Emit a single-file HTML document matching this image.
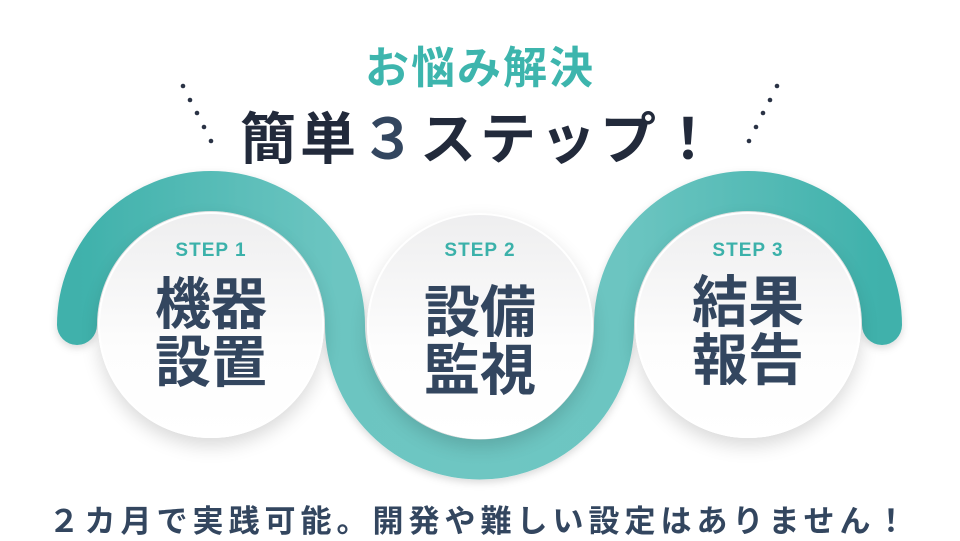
<!DOCTYPE html>
<html><head><meta charset="utf-8"><style>
html,body{margin:0;padding:0;background:#fff;}
body{width:960px;height:540px;position:relative;overflow:hidden;font-family:"Liberation Sans","Noto Sans CJK JP",sans-serif;}
.t{position:absolute;left:0;width:960px;text-align:center;font-weight:bold;white-space:nowrap;}
.c{position:absolute;width:226px;height:226px;border-radius:50%;background:linear-gradient(#eeeeef,#fdfdfd 60%,#fff);box-shadow:0 8px 18px rgba(0,0,0,0.15),inset 0 0 0 2px #fff;}
.s{position:absolute;width:226px;text-align:center;font-weight:bold;color:#3bb1aa;font-size:19px;letter-spacing:1px;}
.k{position:absolute;width:226px;text-align:center;font-weight:bold;color:#33465f;font-size:56px;line-height:58px;}
</style></head><body>
<svg width="960" height="540" style="position:absolute;left:0;top:0">
<defs>
<linearGradient id="g" x1="0" x2="1" y1="0" y2="0">
<stop offset="0" stop-color="#3fb1ab"/><stop offset="0.32" stop-color="#6cc5c1"/><stop offset="0.5" stop-color="#6ec6c2"/><stop offset="0.68" stop-color="#6cc5c1"/><stop offset="1" stop-color="#3fb1ab"/>
</linearGradient>
<filter id="sh" x="-20%" y="-20%" width="140%" height="140%"><feDropShadow dx="0" dy="3" stdDeviation="4" flood-opacity="0.15"/></filter>
</defs>
<path d="M77,325 A134,134 0 0 1 345,325 A134,134 0 0 0 614,325 A134,134 0 0 1 882,325" fill="none" stroke="url(#g)" stroke-width="40" stroke-linecap="round" filter="url(#sh)"/>
<g fill="#2a3345">
<circle cx="183" cy="86" r="2.3"/><circle cx="190" cy="100" r="2.3"/><circle cx="197" cy="113" r="2.3"/><circle cx="204" cy="127" r="2.3"/><circle cx="211" cy="141" r="2.3"/>
<circle cx="777" cy="86" r="2.3"/><circle cx="770" cy="100" r="2.3"/><circle cx="763" cy="113" r="2.3"/><circle cx="756" cy="127" r="2.3"/><circle cx="749" cy="141" r="2.3"/>
</g>
</svg>
<div class="c" style="left:98px;top:212px"></div>
<div class="c" style="left:367px;top:213px"></div>
<div class="c" style="left:635px;top:212px"></div>
<div class="s" style="left:98px;top:240px">STEP 1</div>
<div class="s" style="left:367px;top:240px">STEP 2</div>
<div class="s" style="left:635px;top:240px">STEP 3</div>
<div class="k" style="left:98px;top:276px">機器<br>設置</div>
<div class="k" style="left:367px;top:284px">設備<br>監視</div>
<div class="k" style="left:635px;top:274px">結果<br>報告</div>
<div class="t" style="top:32px;font-size:44px;color:#3db5ad;letter-spacing:2px;">お悩み解決</div>
<div class="t" style="top:95px;font-size:56px;color:#222a3b;letter-spacing:4px;">簡単<span style="color:#33465f">３</span>ステップ！</div>
<div class="t" style="top:496px;font-size:31px;color:#33465f;letter-spacing:5px;">２カ月で実践可能。開発や難しい設定はありません！</div>
</body></html>
